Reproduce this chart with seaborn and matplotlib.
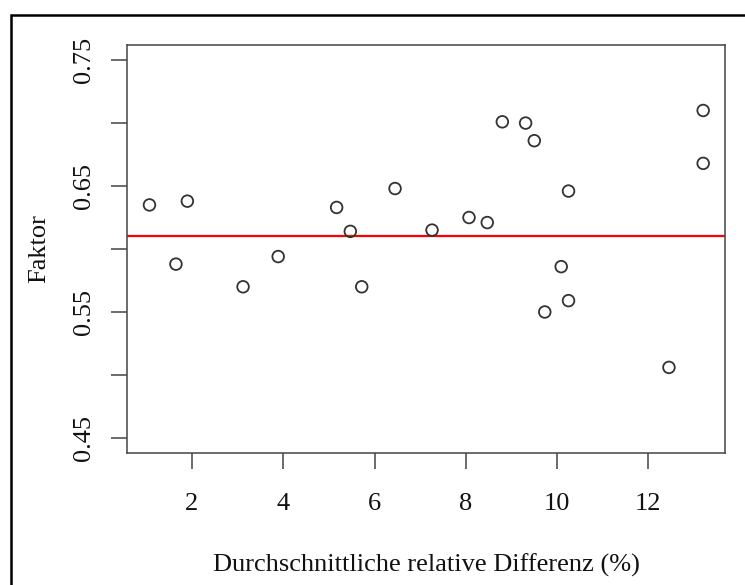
import matplotlib
matplotlib.use('Agg')
import matplotlib.pyplot as plt
import pandas as pd
import seaborn as sns
from matplotlib.patches import Rectangle

# values
diff_pct = [1.07, 1.65, 1.90, 3.12, 3.89, 5.17, 5.47, 5.72, 6.45, 7.26, 8.07,
            8.47, 8.80, 9.31, 9.50, 9.73, 10.09, 10.25, 10.25, 12.45, 13.20, 13.20]
faktor = [0.635, 0.588, 0.638, 0.570, 0.594, 0.633, 0.614, 0.570, 0.648, 0.615, 0.625,
          0.621, 0.701, 0.700, 0.686, 0.550, 0.586, 0.646, 0.559, 0.506, 0.710, 0.668]
mean_faktor = 0.610
x_ticks = [2, 4, 6, 8, 10, 12]
y_ticks = [0.45, 0.50, 0.55, 0.60, 0.65, 0.70, 0.75]
y_ticklabels = ['0.45', '', '0.55', '', '0.65', '', '0.75']

df = pd.DataFrame({'diff': diff_pct, 'faktor': faktor})

sns.set_style('ticks')
plt.rcParams['font.family'] = ['Liberation Serif', 'DejaVu Serif']

fig = plt.figure(figsize=(7.45, 5.85), dpi=100)
ax = fig.add_axes([0.1709, 0.2256, 0.8027, 0.6975])

sns.scatterplot(data=df, x='diff', y='faktor', ax=ax, s=70, facecolor='none',
                edgecolor='#333333', linewidth=1.3, zorder=3)
ax.axhline(mean_faktor, color='#ff0000', lw=1.6, zorder=2)

# R style axis extents (4% padding)
xr = max(diff_pct) - min(diff_pct)
ax.set_xlim(min(diff_pct) - 0.04 * xr, max(diff_pct) + 0.04 * xr)
ax.set_ylim(0.45 - 0.012, 0.75 + 0.012)

ax.set_xticks(x_ticks)
ax.set_xticklabels([str(t) for t in x_ticks])
ax.set_yticks(y_ticks)
ax.set_yticklabels(y_ticklabels, rotation=90, va='center')

for sp in ax.spines.values():
    sp.set_visible(True)
    sp.set_color('#444444')
    sp.set_linewidth(1.1)
ax.tick_params(axis='both', direction='out', length=11.5, width=1.1, color='#444444',
               labelsize=19, labelcolor='#111111', bottom=True, left=True)
ax.tick_params(axis='x', pad=17)
ax.tick_params(axis='y', pad=11.5)

ax.set_xlabel('Durchschnittliche relative Differenz (%)', fontsize=19, color='#111111')
ax.set_ylabel('Faktor', fontsize=19, color='#111111')
ax.xaxis.set_label_coords(0.5, -0.2745)
ax.yaxis.set_label_coords(-0.148, 0.5)
ax.xaxis.label.set_va('center')
ax.yaxis.label.set_va('center')

# outer frame of the original image (cropped on right/bottom)
fig.patches.append(Rectangle((10.7 / 745, -0.1), 1.2, 1 - 15 / 585 + 0.1,
                             transform=fig.transFigure, fill=False,
                             edgecolor='black', linewidth=1.8))

fig.savefig('out.png', dpi=100)
